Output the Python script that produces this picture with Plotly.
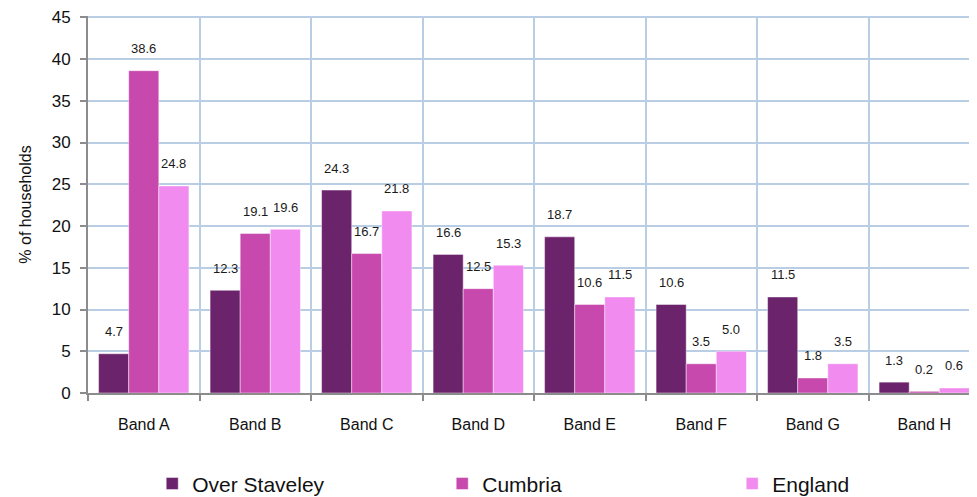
import plotly.graph_objects as go

categories = ["Band A", "Band B", "Band C", "Band D", "Band E", "Band F", "Band G", "Band H"]
over_staveley = [4.7, 12.3, 24.3, 16.6, 18.7, 10.6, 11.5, 1.3]
cumbria = [38.6, 19.1, 16.7, 12.5, 10.6, 3.5, 1.8, 0.2]
england = [24.8, 19.6, 21.8, 15.3, 11.5, 5.0, 3.5, 0.6]
series_names = ["Over Staveley", "Cumbria", "England"]
y_ticks = [0, 5, 10, 15, 20, 25, 30, 35, 40, 45]

colors = ["#6B236B", "#C849AD", "#F18BEF"]
series = [over_staveley, cumbria, england]
font_family = "Liberation Sans, Arial, sans-serif"

fig = go.Figure()
for name, vals, col in zip(series_names, series, colors):
    fig.add_trace(go.Bar(
        x=categories, y=vals, name=name,
        marker=dict(color=col, line=dict(color="rgba(255,255,255,0.55)", width=0.8)),
    ))

shifts = [-30, 0, 30]
for vals, xs in zip(series, shifts):
    for c, v in zip(categories, vals):
        fig.add_annotation(x=c, y=v, text=f"{v:.1f}", showarrow=False,
                           xref="x", yref="y", xshift=xs, yshift=22,
                           yanchor="middle", xanchor="center",
                           font=dict(size=13, color="#1a1a1a", family=font_family))

fig.update_layout(
    width=977, height=497,
    margin=dict(l=80, r=5, t=8, b=112, autoexpand=False),
    plot_bgcolor="white", paper_bgcolor="white",
    barmode="group", bargap=0.19, bargroupgap=0,
    font=dict(family=font_family, color="#1a1a1a"),
    showlegend=True,
    legend=dict(orientation="h", x=0.072, xanchor="left", y=-0.241, yanchor="middle",
                bgcolor="rgba(0,0,0,0)",
                font=dict(size=21, color="#111111"), entrywidth=245, entrywidthmode="pixels",
                itemclick=False, traceorder="normal"),
    xaxis=dict(type="category", tickson="boundaries", showgrid=True, automargin=False,
               gridcolor="#B9CDE5", gridwidth=2, showline=True, linecolor="#8C8C8C",
               linewidth=2, ticks="outside", ticklen=6, tickcolor="#8C8C8C", tickwidth=2,
               tickfont=dict(size=16, color="#111111"), ticklabelstandoff=16),
    yaxis=dict(range=[0, 45.15], tickvals=y_ticks, showgrid=True, gridcolor="#B9CDE5",
               gridwidth=2, showline=True, linecolor="#8C8C8C", linewidth=2, automargin=False,
               ticks="outside", ticklen=6, tickcolor="#8C8C8C", tickwidth=2,
               tickfont=dict(size=17, color="#111111"), ticklabelstandoff=6,
               ticklabeloverflow="allow", zeroline=False,
               title=dict(text="% of households", font=dict(size=16, color="#111111"), standoff=16)),
)

fig.write_html("out.html")
